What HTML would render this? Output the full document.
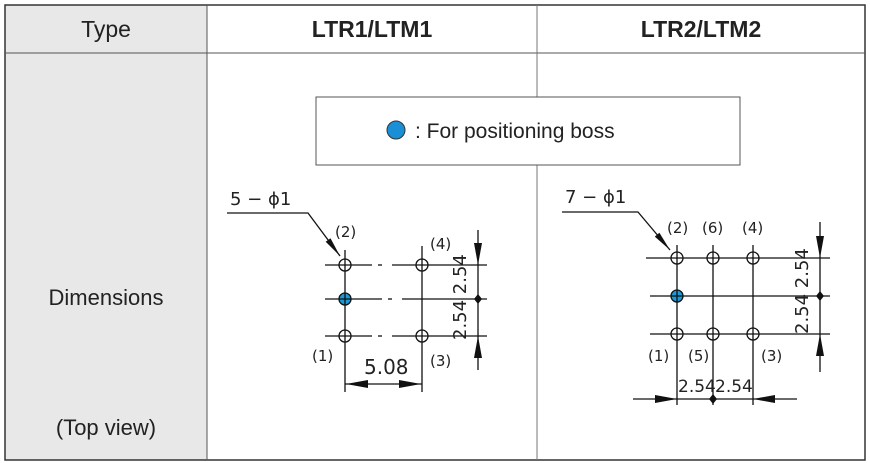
<!DOCTYPE html>
<html><head><style>body{margin:0;background:#fff}svg{display:block}</style></head><body>
<svg width="870" height="463" viewBox="0 0 870 463" xmlns="http://www.w3.org/2000/svg" font-family="Liberation Sans, sans-serif">
<rect x="5" y="5" width="202" height="48" fill="#e8e8e8"/>
<rect x="5" y="53" width="202" height="407" fill="#e8e8e8"/>
<rect x="5" y="5" width="860" height="455" fill="none" stroke="#333" stroke-width="1.5"/>
<line x1="5" y1="53" x2="865" y2="53" stroke="#555"/>
<line x1="207" y1="5" x2="207" y2="460" stroke="#555"/>
<line x1="537" y1="5" x2="537" y2="460" stroke="#777"/>
<text x="106" y="37" font-size="23" text-anchor="middle" fill="#222">Type</text>
<text x="372" y="37" font-size="23" font-weight="bold" text-anchor="middle" fill="#222">LTR1/LTM1</text>
<text x="701" y="37" font-size="23" font-weight="bold" text-anchor="middle" fill="#222">LTR2/LTM2</text>
<text x="106" y="305" font-size="22" text-anchor="middle" fill="#222">Dimensions</text>
<text x="106" y="435" font-size="22" text-anchor="middle" fill="#222">(Top view)</text>
<rect x="316" y="97" width="424" height="68" fill="#fff" stroke="#555"/>
<circle cx="396" cy="130" r="9" fill="#1a8fd6" stroke="#333"/>
<text x="415" y="138" font-size="21" fill="#222">: For positioning boss</text>
<g stroke="#111" stroke-width="1.3" fill="none">
<!-- left -->
<polyline points="227,213 308,213 340,256"/>
<line x1="325" y1="265" x2="372" y2="265"/><line x1="378" y1="265" x2="382" y2="265"/><line x1="392" y1="265" x2="487" y2="265"/>
<line x1="325" y1="299" x2="382" y2="299"/><line x1="388" y1="299" x2="392" y2="299"/><line x1="402" y1="299" x2="487" y2="299"/>
<line x1="325" y1="336" x2="372" y2="336"/><line x1="378" y1="336" x2="382" y2="336"/><line x1="392" y1="336" x2="487" y2="336"/>
<line x1="345" y1="250" x2="345" y2="392"/><line x1="422" y1="246" x2="422" y2="392"/>
<line x1="478" y1="230" x2="478" y2="370"/>
<line x1="345" y1="384" x2="422" y2="384"/>
<g fill="#fff"><circle cx="345" cy="265" r="6"/><circle cx="422" cy="265" r="6"/><circle cx="345" cy="336" r="6"/><circle cx="422" cy="336" r="6"/></g>
<circle cx="345" cy="299" r="6" fill="#1a9ad6"/>
<path d="M339,265h12M345,259v12M416,265h12M422,259v12M339,336h12M345,330v12M416,336h12M422,330v12M339,299h12M345,293v12"/>
<!-- right -->
<polyline points="562,212 638,212 670,250"/>
<line x1="646" y1="258" x2="830" y2="258"/><line x1="650" y1="296" x2="830" y2="296"/><line x1="650" y1="334" x2="830" y2="334"/>
<line x1="677" y1="245" x2="677" y2="405"/><line x1="713" y1="245" x2="713" y2="405"/><line x1="753" y1="245" x2="753" y2="405"/>
<line x1="820" y1="222" x2="820" y2="372"/>
<line x1="633" y1="399" x2="797" y2="399"/>
<g fill="#fff"><circle cx="677" cy="258" r="6"/><circle cx="713" cy="258" r="6"/><circle cx="753" cy="258" r="6"/><circle cx="677" cy="334" r="6"/><circle cx="713" cy="334" r="6"/><circle cx="753" cy="334" r="6"/></g>
<circle cx="677" cy="296" r="6" fill="#1a9ad6"/>
<path d="M671,258h12M677,252v12M707,258h12M713,252v12M747,258h12M753,252v12M671,334h12M677,328v12M707,334h12M713,328v12M747,334h12M753,328v12M671,296h12M677,290v12"/>
</g>
<g fill="#111">
<polygon points="340,256 325.7,241.8 330.5,238.2"/>
<polygon points="670,250 654.8,236.6 659.4,232.8"/>
<polygon points="478,265 474,243 482,243"/><polygon points="478,336 474,358 482,358"/>
<polygon points="820,258 816,236 824,236"/><polygon points="820,334 816,356 824,356"/>
<polygon points="346,384 368,380 368,388"/><polygon points="421,384 399,380 399,388"/>
<polygon points="677,399 655,395 655,403"/><polygon points="753,399 775,395 775,403"/>
<path d="M478,294l4,5l-4,5l-4,-5z"/><path d="M820,291l4,5l-4,5l-4,-5z"/><path d="M713,394l4,5l-4,5l-4,-5z"/>
</g>
<g font-family="DejaVu Sans, sans-serif" fill="#222" font-size="15">
<text x="230" y="205" font-size="18">5 − ϕ1</text>
<text x="565" y="203" font-size="18">7 − ϕ1</text>
<text x="335" y="237">(2)</text><text x="430" y="249">(4)</text>
<text x="312" y="361">(1)</text><text x="430" y="366">(3)</text>
<text x="364" y="374" font-size="20">5.08</text>
<text transform="translate(466,340) rotate(-90)" font-size="18">2.54 2.54</text>
<text x="667" y="233">(2)</text><text x="702" y="233">(6)</text><text x="742" y="233">(4)</text>
<text x="648" y="361">(1)</text><text x="688" y="361">(5)</text><text x="761" y="361">(3)</text>
<text x="678" y="392" font-size="17">2.54</text><text x="715" y="392" font-size="17">2.54</text>
<text transform="translate(808,334) rotate(-90)" font-size="18">2.54 2.54</text>
</g>
</svg>
</body></html>
